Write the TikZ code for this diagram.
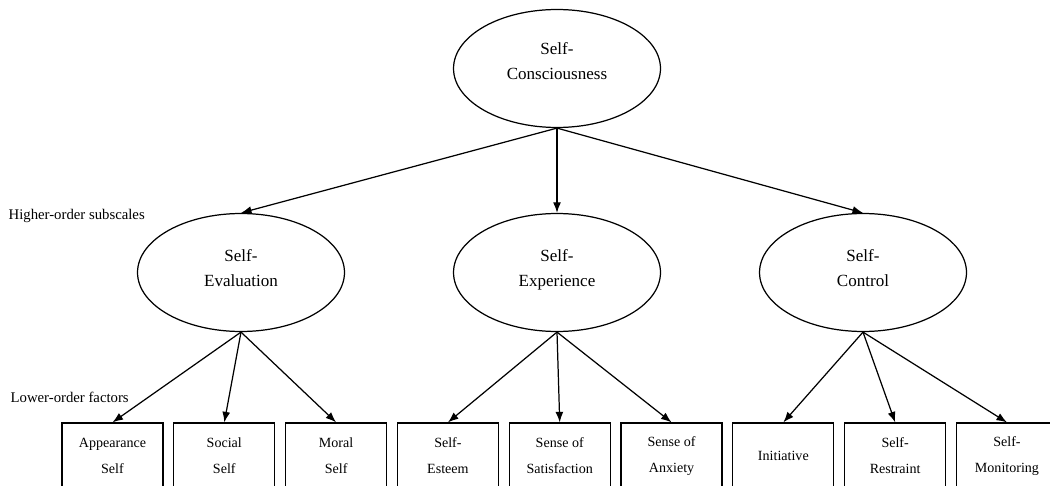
\documentclass[tikz,border=0pt]{standalone}
\usepackage{fontspec}
\setmainfont{Liberation Serif}
\usetikzlibrary{arrows.meta,shapes.geometric,positioning}

\begin{document}
\begin{tikzpicture}[x=0.02cm,y=-0.02cm,line width=.7pt,
    oval/.style={draw,ellipse,minimum width=4.14cm,minimum height=2.36cm,
                 inner sep=0pt,align=center,text height=16.2pt,text depth=0pt,
                 font=\fontsize{9.7}{14.2}\selectfont},
    factor/.style={draw,rectangle,minimum width=2.02cm,minimum height=1.32cm,
                   inner sep=0pt,align=center,font=\fontsize{8}{14.8}\selectfont},
    link/.style={-{Latex[length=6pt,width=4.5pt]}},
    side/.style={anchor=west,inner sep=0pt,font=\fontsize{8.4}{10}\selectfont}]

% page edge, the last boxes run off it
\clip (0,0) rectangle (1050,486);

% Top of the model
\node[oval,text height=12.2pt] (sc) at (557,68.5) {Self-\\Consciousness};

% Higher-order subscales
\node[side] (hlab) at (8,216) {Higher-order subscales};
\node[oval] (seval) at (241,272.5) {Self-\\Evaluation};
\node[oval] (sexp) at (557,272.5) {Self-\\Experience};
\node[oval] (sctl) at (863,272.5) {Self-\\Control};

% Lower-order factors
\node[side] (llab) at (10,397) {Lower-order factors};
\node[factor] (app) at (112.5,456) {Appearance\\Self};
\node[factor,right=0.192cm of app] (soc) {Social\\Self};
\node[factor,right=0.192cm of soc] (mor) {Moral\\Self};
\node[factor,right=0.192cm of mor] (est) {Self-\\Esteem};
\node[factor,right=0.192cm of est] (sat) {Sense of\\Satisfaction};
\node[factor,right=0.192cm of sat] (anx) {Sense of\\Anxiety};
\node[factor,right=0.192cm of anx] (ini) {Initiative};
\node[factor,right=0.192cm of ini] (res) {Self-\\Restraint};
\node[factor,right=0.192cm of res] (mon) {Self-\\Monitoring};

% arrows
\foreach \to in {seval,sexp,sctl}
    \draw[link] (sc.south) -- (\to.north);
\foreach \to in {app,soc,mor}
    \draw[link] (seval.south) -- (\to.north);
\foreach \to in {est,sat,anx}
    \draw[link] (sexp.south) -- (\to.north);
\foreach \to in {ini,res,mon}
    \draw[link] (sctl.south) -- (\to.north);

\end{tikzpicture}
\end{document}
